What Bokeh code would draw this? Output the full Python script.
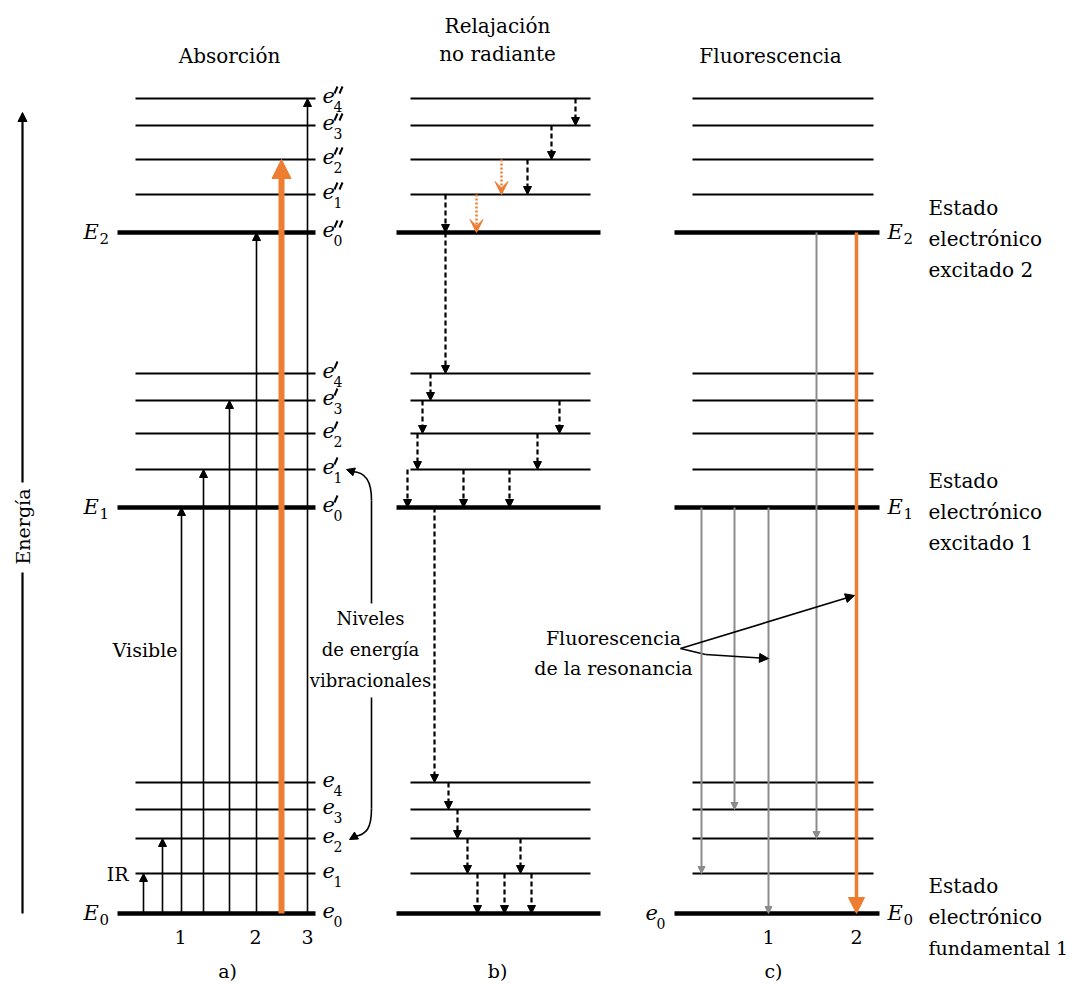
import math
from bokeh.plotting import figure
from bokeh.models import Range1d, Arrow, NormalHead, VeeHead, Label, ColumnDataSource
from bokeh.embed import file_html
from bokeh.resources import INLINE

# ---------------- data (diagram energy units, E0 = 0) ----------------
ground_levels = [0, 40, 75, 104, 131]        # e0 .. e4
first_levels = [406, 444, 480, 513, 540]     # e'0 .. e'4   (E1)
second_levels = [681, 719, 754, 788, 815]    # e''0 .. e''4 (E2)

# absorption transitions (panel a): x position, target level (all from E0)
absorption_x = [143, 162, 181, 203, 229, 256, 307]
absorption_to = [ground_levels[1], ground_levels[2], first_levels[0], first_levels[1],
                 first_levels[3], second_levels[0], second_levels[4]]
absorption_hl_x = [281]
absorption_hl_to = [second_levels[2]]

# non-radiative relaxation (panel b): x, from, to
relax_x = [575, 551, 527, 445, 445, 430, 422, 559, 417, 537, 407, 463, 509,
           434, 448, 457, 467, 520, 477, 504, 531]
relax_from = [second_levels[4], second_levels[3], second_levels[2], second_levels[1], second_levels[0],
              first_levels[4], first_levels[3], first_levels[3], first_levels[2], first_levels[2],
              first_levels[1], first_levels[1], first_levels[1],
              first_levels[0], ground_levels[4], ground_levels[3], ground_levels[2], ground_levels[2],
              ground_levels[1], ground_levels[1], ground_levels[1]]
relax_to = [second_levels[3], second_levels[2], second_levels[1], second_levels[0], first_levels[4],
            first_levels[3], first_levels[2], first_levels[2], first_levels[1], first_levels[1],
            first_levels[0], first_levels[0], first_levels[0],
            ground_levels[4], ground_levels[3], ground_levels[2], ground_levels[1], ground_levels[1],
            ground_levels[0], ground_levels[0], ground_levels[0]]
relax_hl_x = [501, 476]
relax_hl_from = [second_levels[2], second_levels[1]]
relax_hl_to = [second_levels[1], second_levels[0]]

# fluorescence (panel c): x, from, to
fluor_x = [701, 734, 768, 816]
fluor_from = [first_levels[0], first_levels[0], first_levels[0], second_levels[0]]
fluor_to = [ground_levels[1], ground_levels[3], ground_levels[0], ground_levels[2]]
fluor_hl_x = [856]
fluor_hl_from = [second_levels[0]]
fluor_hl_to = [ground_levels[0]]

# panel spans: thin start, thin end, thick start, thick end
panels = {"a": (135, 315, 117, 315), "b": (410, 590, 396, 600), "c": (692, 873, 674, 879)}

ORANGE = "#ED7D31"
GRAY = "#8c8c8c"
FONT = "DejaVu Serif"


def Y(py):
    """convert a reference row to diagram energy units"""
    return 913 - py


p = figure(width=1073, height=983, x_range=Range1d(0, 1073), y_range=Range1d(Y(983), Y(0)),
           output_backend="svg", toolbar_location=None, min_border=0,
           x_axis_location=None, y_axis_location=None)
p.grid.visible = False
p.outline_line_color = None
p.background_fill_color = "white"

# ---------------- levels ----------------
for key, (t0, t1, k0, k1) in panels.items():
    for grp in (ground_levels, first_levels, second_levels):
        thin = grp[1:]
        p.segment(x0=[t0] * len(thin), x1=[t1] * len(thin), y0=thin, y1=thin,
                  line_color="black", line_width=2)
        p.segment(x0=[k0], x1=[k1], y0=[grp[0]], y1=[grp[0]], line_color="black", line_width=4.5)


def arrows(xs, y0s, y1s, color, width, head, dash="solid"):
    src = ColumnDataSource(dict(x0=xs, x1=xs, y0=y0s, y1=y1s))
    p.add_layout(Arrow(source=src, x_start="x0", y_start="y0", x_end="x1", y_end="y1",
                       line_color=color, line_width=width, line_dash=dash, end=head))


# panel a
arrows(absorption_x, [ground_levels[0]] * len(absorption_x), absorption_to, "black", 1.6,
       NormalHead(size=8, fill_color="black", line_color="black", line_width=1))
arrows(absorption_hl_x, [ground_levels[0]], absorption_hl_to, ORANGE, 6,
       NormalHead(size=19, fill_color=ORANGE, line_color=ORANGE, line_width=1))
# panel b
arrows(relax_x, relax_from, relax_to, "black", 2.2,
       NormalHead(size=8, fill_color="black", line_color="black", line_width=1), dash="5 3")
arrows(relax_hl_x, relax_hl_from, relax_hl_to, ORANGE, 2.5,
       VeeHead(size=13, fill_color=ORANGE, line_color=ORANGE, line_width=1), dash="2 2")
# panel c
arrows(fluor_x, fluor_from, fluor_to, GRAY, 2,
       NormalHead(size=7, fill_color=GRAY, line_color=GRAY, line_width=1))
arrows(fluor_hl_x, fluor_hl_from, fluor_hl_to, ORANGE, 3.5,
       NormalHead(size=16, fill_color=ORANGE, line_color=ORANGE, line_width=1))


# ---------------- text helpers ----------------
def txt(x, py, s, size=20, align="left", italic=False, angle=0):
    p.add_layout(Label(x=x, y=Y(py), text=s, text_font=FONT, text_font_size=f"{size}px",
                       text_align=align, text_baseline="middle", angle=angle,
                       text_font_style="italic" if italic else "normal", text_color="black"))


def elabel(x, py, nprimes, sub):
    txt(x, py - 3, "e", 21, italic=True)
    if nprimes:
        xs0 = [x + 12 + 5 * k for k in range(nprimes)]
        p.segment(x0=xs0, x1=[v + 3 for v in xs0], y0=[Y(py - 5)] * nprimes,
                  y1=[Y(py - 12)] * nprimes, line_color="black", line_width=2)
    txt(x + 11, py + 8, sub, 14)


def Elabel(x, py, sub):
    txt(x, py - 1, "E", 21, italic=True)
    txt(x + 16, py + 6, sub, 15)


# level labels, panel a
for i, lv in enumerate(second_levels):
    elabel(322, 913 - lv, 2, str(i))
for i, lv in enumerate(first_levels):
    elabel(322, 913 - lv, 1, str(i))
for i, lv in enumerate(ground_levels):
    elabel(322, 913 - lv, 0, str(i))
Elabel(83, 913 - second_levels[0], "2")
Elabel(83, 913 - first_levels[0], "1")
Elabel(83, 913 - ground_levels[0], "0")
# panel c labels
Elabel(887, 913 - second_levels[0], "2")
Elabel(887, 913 - first_levels[0], "1")
Elabel(887, 913 - ground_levels[0], "0")
elabel(645, 913 - ground_levels[0] + 2, 0, "0")

# titles
txt(229, 55, "Absorción", 20, "center")
txt(497, 25, "Relajación", 20, "center")
txt(497, 53, "no radiante", 20, "center")
txt(770, 55, "Fluorescencia", 20, "center")

# panel tags and numbers
txt(227, 970, "a)", 19, "center")
txt(497, 970, "b)", 19, "center")
txt(773, 970, "c)", 19, "center")
for x, s in [(180, "1"), (255, "2"), (307, "3"), (768, "1"), (856, "2")]:
    txt(x, 936, s, 19, "center")

txt(128, 873, "IR", 19, "right")
txt(177, 649, "Visible", 19, "right")
for py, s in [(618, "Niveles"), (649, "de energía"), (680, "vibracionales")]:
    txt(370, py, s, 18, "center")
for py, s in [(637, "Fluorescencia"), (667, "de la resonancia")]:
    txt(613, py, s, 19, "center")
for base, lines in [(207, ["Estado", "electrónico", "excitado 2"]),
                    (480, ["Estado", "electrónico", "excitado 1"]),
                    (885, ["Estado", "electrónico", "fundamental 1"])]:
    for k, s in enumerate(lines):
        txt(928, base + 31 * k, s, 19 if s.startswith("fund") else 20)

# Energy axis
p.segment(x0=[22], x1=[22], y0=[Y(913)], y1=[Y(572)], line_color="black", line_width=2.2)
p.add_layout(Arrow(x_start=22, y_start=Y(482), x_end=22, y_end=Y(112), line_color="black",
                   line_width=2.2, end=NormalHead(size=9, fill_color="black", line_color="black")))
txt(22, 526, "Energía", 19, "center", angle=math.pi / 2)

# bracket for vibrational levels
p.segment(x0=[371, 371], x1=[371, 371], y0=[Y(603), Y(697)], y1=[Y(500), Y(808)],
          line_color="black", line_width=1.6)
p.bezier(x0=[371, 371], y0=[Y(500), Y(808)], x1=[352, 354], y1=[Y(471), Y(836)],
         cx0=[371, 371], cy0=[Y(480), Y(828)], cx1=[365, 366], cy1=[Y(472), Y(834)],
         line_color="black", line_width=1.6)
p.add_layout(Arrow(x_start=354, y_start=Y(471.5), x_end=346, y_end=Y(469), line_color="black",
                   line_width=1.5, end=NormalHead(size=8, fill_color="black", line_color="black")))
p.add_layout(Arrow(x_start=356, y_start=Y(835), x_end=349, y_end=Y(839), line_color="black",
                   line_width=1.5, end=NormalHead(size=8, fill_color="black", line_color="black")))

# resonance fluorescence pointers
p.add_layout(Arrow(x_start=680, y_start=Y(648), x_end=854, y_end=Y(595), line_color="black",
                   line_width=1.6, end=NormalHead(size=9, fill_color="black", line_color="black")))
p.segment(x0=[680], x1=[705], y0=[Y(648)], y1=[Y(654)], line_color="black", line_width=1.6)
p.add_layout(Arrow(x_start=705, y_start=Y(654), x_end=768, y_end=Y(658), line_color="black",
                   line_width=1.6, end=NormalHead(size=9, fill_color="black", line_color="black")))

open("out.html", "w").write(file_html(p, INLINE))
